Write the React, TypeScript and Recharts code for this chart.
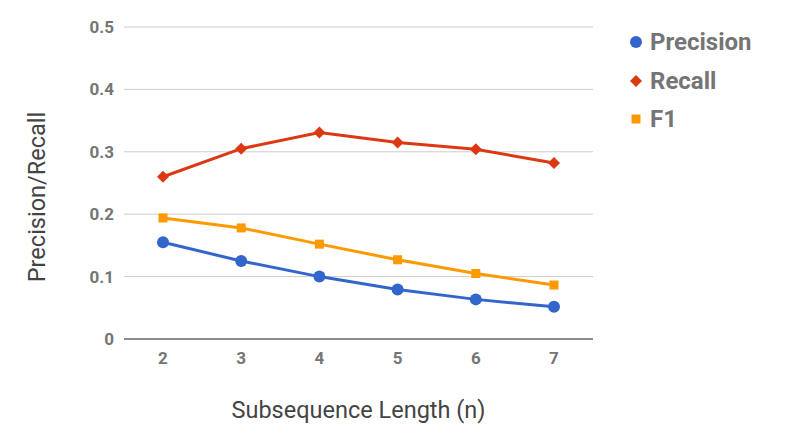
import React from 'react';
import { LineChart, Line, XAxis, YAxis, CartesianGrid, Legend } from 'recharts';

// Subsequence length n
const lengths = [2, 3, 4, 5, 6, 7];
const precision = [0.155, 0.125, 0.1, 0.0795, 0.0635, 0.0515];
const recall = [0.26, 0.305, 0.331, 0.315, 0.304, 0.282];
const f1 = [0.194, 0.178, 0.152, 0.127, 0.105, 0.0865];
const yTicks = [0, 0.1, 0.2, 0.3, 0.4, 0.5];

const series = [
  { key: 'Precision', color: '#3366cc', shape: 'circle' },
  { key: 'Recall', color: '#dc3912', shape: 'diamond' },
  { key: 'F1', color: '#ff9900', shape: 'square' },
];

const data = lengths.map((n, i) => ({
  n,
  Precision: precision[i],
  Recall: recall[i],
  F1: f1[i],
}));

const FONT = 'Roboto, "Noto Sans", Arial, sans-serif';

const Marker = ({ shape, color, cx, cy }: { shape: string; color: string; cx: number; cy: number }) => {
  if (shape === 'diamond') {
    const r = 6;
    return <path d={`M${cx},${cy - r}L${cx + r},${cy}L${cx},${cy + r}L${cx - r},${cy}Z`} fill={color} />;
  }
  if (shape === 'square') {
    const s = 4.5;
    return <rect x={cx - s} y={cy - s} width={s * 2} height={s * 2} fill={color} />;
  }
  return <circle cx={cx} cy={cy} r={6} fill={color} />;
};

const renderDot = (shape: string, color: string) => (props: any) => {
  const { cx, cy, index } = props;
  if (cx == null || cy == null) return <g key={index} />;
  return <Marker key={index} shape={shape} color={color} cx={cx} cy={cy} />;
};

const LegendContent = () => (
  <div style={{ fontFamily: FONT }}>
    {series.map((s) => (
      <div key={s.key} style={{ display: 'flex', alignItems: 'center', height: 38.5 }}>
        <svg width={14} height={14} style={{ display: 'block' }}>
          <Marker shape={s.shape} color={s.color} cx={7} cy={7} />
        </svg>
        <span style={{ marginLeft: 7, fontSize: 24, fontWeight: 700, color: '#757575', lineHeight: 1 }}>{s.key}</span>
      </div>
    ))}
  </div>
);

const YTitle = () => (
  <text
    x={37}
    y={197}
    transform="rotate(-90 37 197)"
    textAnchor="middle"
    dominantBaseline="central"
    fontFamily={FONT}
    fontSize={23.5}
    fill="#444444"
  >
    Precision/Recall
  </text>
);

const XTitle = (props: any) => {
  const { viewBox } = props;
  const cx = viewBox.x + viewBox.width / 2;
  return (
    <text x={cx} y={418} textAnchor="middle" fontFamily={FONT} fontSize={23.5} fill="#444444">
      Subsequence Length (n)
    </text>
  );
};

export default function App() {
  return (
    <div style={{ position: 'absolute', left: 0, top: 0, width: 800, height: 439, background: '#fff' }}>
      <LineChart width={800} height={439} data={data} margin={{ top: 27, right: 207, bottom: 10, left: 0 }}>
        <CartesianGrid vertical={false} stroke="#cccccc" />
        <XAxis
          dataKey="n"
          height={90}
          padding={{ left: 39, right: 39 }}
          axisLine={{ stroke: '#333333' }}
          tickLine={false}
          tickSize={0}
          tickMargin={13}
          tick={{ fill: '#757575', fontSize: 17, fontWeight: 700, fontFamily: FONT }}
          label={<XTitle />}
        />
        <YAxis
          width={124}
          domain={[0, 0.5]}
          ticks={yTicks}
          tickFormatter={(v: number) => (v === 0 ? '0' : v.toFixed(1))}
          axisLine={false}
          tickLine={false}
          tickSize={0}
          tickMargin={10}
          tick={{ fill: '#757575', fontSize: 17, fontWeight: 700, fontFamily: FONT }}
          label={<YTitle />}
        />
        <Legend
          layout="vertical"
          align="center"
          verticalAlign="middle"
          content={<LegendContent />}
          wrapperStyle={{ left: 629, top: 23, width: 'auto' }}
        />
        {series.map((s) => (
          <Line
            key={s.key}
            type="linear"
            dataKey={s.key}
            stroke={s.color}
            strokeWidth={3}
            dot={renderDot(s.shape, s.color)}
            activeDot={false}
            isAnimationActive={false}
          />
        ))}
      </LineChart>
    </div>
  );
}
